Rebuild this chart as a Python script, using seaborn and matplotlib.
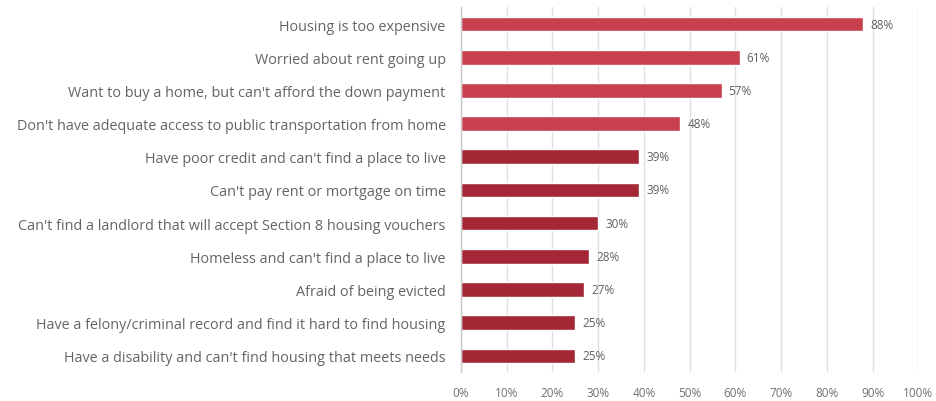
import matplotlib
matplotlib.use("Agg")
import matplotlib.pyplot as plt
import seaborn as sns
import pandas as pd

categories = [
    "Housing is too expensive",
    "Worried about rent going up",
    "Want to buy a home, but can't afford the down payment",
    "Don't have adequate access to public transportation from home",
    "Have poor credit and can't find a place to live",
    "Can't pay rent or mortgage on time",
    "Can't find a landlord that will accept Section 8 housing vouchers",
    "Homeless and can't find a place to live",
    "Afraid of being evicted",
    "Have a felony/criminal record and find it hard to find housing",
    "Have a disability and can't find housing that meets needs",
]
values = [88, 61, 57, 48, 39, 39, 30, 28, 27, 25, 25]
x_ticks = [0, 10, 20, 30, 40, 50, 60, 70, 80, 90, 100]

light_red = "#c8404e"
dark_red = "#a42735"
bar_colors = [light_red] * 4 + [dark_red] * 7

df = pd.DataFrame({"category": categories, "value": values})

sns.set_theme(style="white")
plt.rcParams["font.family"] = ["Open Sans", "DejaVu Sans"]

fig = plt.figure(figsize=(9.37, 4.02), dpi=100)
ax = fig.add_axes([0.492, 0.071, 0.488, 0.908])

sns.barplot(
    data=df, x="value", y="category", hue="category",
    palette=bar_colors, legend=False, width=0.44, ax=ax,
    orient="h", saturation=1,
)

ax.set_xlim(0, 100)
ax.set_xticks(x_ticks)
ax.set_xticklabels([f"{t}%" for t in x_ticks], fontsize=8.5, color="#707070")
ax.tick_params(axis="y", labelsize=10.4, labelcolor="#646464", length=0, pad=11)
ax.tick_params(axis="x", length=0, pad=10)
ax.set_xlabel("")
ax.set_ylabel("")

ax.grid(axis="x", color="#e0e0e0", linewidth=1)
ax.set_axisbelow(True)
for side in ["top", "right", "bottom"]:
    ax.spines[side].set_visible(False)
ax.spines["left"].set_color("#c8c8c8")
ax.spines["left"].set_linewidth(1)

for container in ax.containers:
    ax.bar_label(container, labels=[f"{v:.0f}%" for v in container.datavalues],
                 padding=5, fontsize=8.5, color="#606060")

fig.savefig("out.png", dpi=100, facecolor="white")
